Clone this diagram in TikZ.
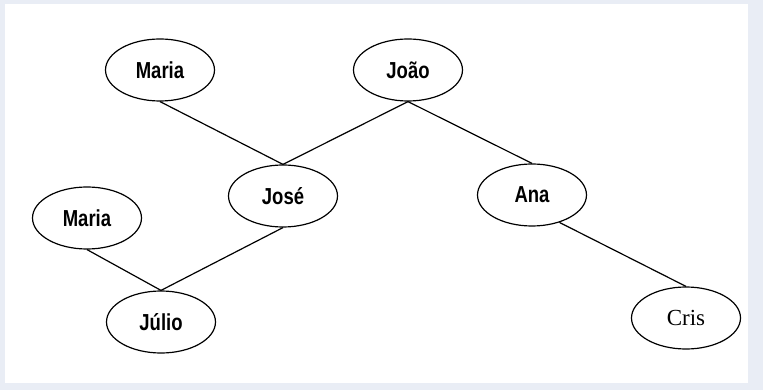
\documentclass[tikz,border=0pt]{standalone}
\usepackage{fontspec}
\usepackage{graphicx}
\setmainfont{Liberation Sans}
\newfontfamily\crisfont{Liberation Serif}
\usetikzlibrary{shapes.geometric}
\definecolor{framebg}{RGB}{233,237,245}
% tall, narrow name labels
\newcommand{\tallname}[1]{\scalebox{1}[1.25]{#1}}
\begin{document}
\begin{tikzpicture}[x=1pt,y=-1pt,
  person/.style={draw, ellipse, minimum width=109pt, minimum height=62pt,
    inner sep=0pt, line width=1.2pt, font=\bfseries\fontsize{18.5}{20}\selectfont},
  link/.style={line width=1.2pt}]
  % frame and page
  \fill[framebg] (0,0) rectangle (763,390);
  \fill[white] (5,4) rectangle (748,383);
  \useasboundingbox (0,0) rectangle (763,390);
  % people
  \node[person] (mariaA) at (160,70) {\tallname{Maria}};
  \node[person] (joao)   at (408,70) {\tallname{João}};
  \node[person] (jose)   at (283,196) {\tallname{José}};
  \node[person] (ana)    at (532,195) {\tallname{Ana}};
  \node[person] (mariaB) at (87,218) {\tallname{Maria}};
  \node[person] (julio)  at (161,322) {\tallname{Júlio}};
  \node[person, font=\crisfont\fontsize{23}{25}\selectfont] (cris) at (686,318) {Cris};
  % relations
  \draw[link] (mariaA.south) -- (jose.north);
  \draw[link] (joao.south) -- (jose.north);
  \draw[link] (joao.south) -- (ana.north);
  \draw[link] (mariaB.south) -- (julio.north);
  \draw[link] (jose.south) -- (julio.north);
  \draw[link] (ana.-45) -- (cris.north);
\end{tikzpicture}
\end{document}
